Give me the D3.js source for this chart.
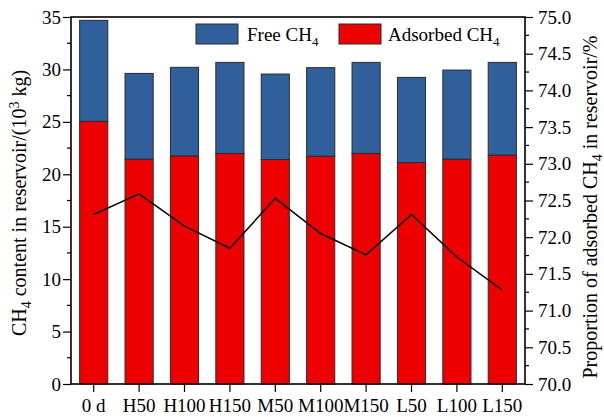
<!DOCTYPE html>
<html>
<head>
<meta charset="utf-8">
<script src="https://cdn.jsdelivr.net/npm/d3@7"></script>
<style>
  html, body { margin: 0; padding: 0; background: #fff; }
  svg { display: block; }
  text { font-family: "Liberation Serif", "Times New Roman", serif; fill: #000; }
</style>
</head>
<body>
<svg id="chart" width="604" height="417"></svg>
<script>
// Scenario categories
const categories = ["0 d", "H50", "H100", "H150", "M50", "M100", "M150", "L50", "L100", "L150"];
// Adsorbed CH4 in reservoir (10^3 kg)
const adsorbed = [25.05, 21.45, 21.76, 21.98, 21.41, 21.73, 21.98, 21.12, 21.45, 21.83];
// Free CH4 in reservoir (10^3 kg)
const free = [9.63, 8.17, 8.44, 8.69, 8.15, 8.44, 8.69, 8.12, 8.49, 8.84];
// Proportion of adsorbed CH4 (%)
const proportion = [72.31, 72.59, 72.15, 71.85, 72.53, 72.05, 71.76, 72.31, 71.73, 71.28];
// Axis ticks
const leftTicks = [0, 5, 10, 15, 20, 25, 30, 35];
const rightTicks = [70.0, 70.5, 71.0, 71.5, 72.0, 72.5, 73.0, 73.5, 74.0, 74.5, 75.0];

(function () {
const svg = d3.select("#chart");
const pL = 71, pR = 525, pT = 17, pB = 384;
const fs = 19, fsTitle = 20;

const x = d3.scaleBand().domain(categories).range([pL, pR])
  .paddingInner(0.38).paddingOuter(0.19);
const yL = d3.scaleLinear().domain([0, 35]).range([pB, pT]);
const yR = d3.scaleLinear().domain([70, 75]).range([pB, pT]);

const RED = "#ee0000", BLUE = "#30609b", EDGE = "#2a2a2a";

// Stacked bars: adsorbed at the bottom, free on top
const g = svg.append("g");
categories.forEach((c, i) => {
  g.append("rect")
    .attr("x", x(c)).attr("width", x.bandwidth())
    .attr("y", yL(adsorbed[i])).attr("height", yL(0) - yL(adsorbed[i]))
    .attr("fill", RED).attr("stroke", EDGE).attr("stroke-width", 1);
  g.append("rect")
    .attr("x", x(c)).attr("width", x.bandwidth())
    .attr("y", yL(adsorbed[i] + free[i])).attr("height", yL(adsorbed[i]) - yL(adsorbed[i] + free[i]))
    .attr("fill", BLUE).attr("stroke", EDGE).attr("stroke-width", 1);
});

// Proportion line on the right axis
const line = d3.line()
  .x((d, i) => x(categories[i]) + x.bandwidth() / 2)
  .y(d => yR(d));
svg.append("path").datum(proportion)
  .attr("d", line).attr("fill", "none")
  .attr("stroke", "#000").attr("stroke-width", 1.5);

// Frame
svg.append("rect").attr("x", pL).attr("y", pT)
  .attr("width", pR - pL).attr("height", pB - pT)
  .attr("fill", "none").attr("stroke", "#000").attr("stroke-width", 1.6);

// Left axis
const axL = d3.axisLeft(yL).tickValues(leftTicks).tickSize(8).tickPadding(2).tickFormat(d3.format("d"));
const gL = svg.append("g").attr("transform", `translate(${pL},0)`).call(axL);
const minorL = d3.range(2.5, 35, 5);
gL.selectAll(".minor").data(minorL).enter().append("line")
  .attr("x1", 0).attr("x2", -4).attr("y1", d => yL(d)).attr("y2", d => yL(d))
  .attr("stroke", "#000").attr("stroke-width", 1.2);

// Right axis
const axR = d3.axisRight(yR).tickValues(rightTicks).tickSize(8).tickPadding(5).tickFormat(d3.format(".1f"));
const gR = svg.append("g").attr("transform", `translate(${pR},0)`).call(axR);
const minorR = d3.range(70.25, 75, 0.5);
gR.selectAll(".minor").data(minorR).enter().append("line")
  .attr("x1", 0).attr("x2", 4).attr("y1", d => yR(d)).attr("y2", d => yR(d))
  .attr("stroke", "#000").attr("stroke-width", 1.2);

// Bottom axis
const axB = d3.axisBottom(x).tickSize(8).tickPadding(7);
const gB = svg.append("g").attr("transform", `translate(0,${pB})`).call(axB);

[gL, gR, gB].forEach(a => {
  a.select(".domain").remove();
  a.selectAll(".tick line").attr("stroke", "#000").attr("stroke-width", 1.2);
  a.selectAll("text").style("font-size", fs + "px")
    .style("font-family", '"Liberation Serif", "Times New Roman", serif').attr("fill", "#000");
});

// Axis titles
const tL = svg.append("text")
  .attr("transform", `translate(26,203) rotate(-90)`)
  .attr("text-anchor", "middle").style("font-size", fsTitle + "px");
tL.append("tspan").text("CH");
tL.append("tspan").text("4").style("font-size", "14px").attr("dy", 5);
tL.append("tspan").text(" content in reservoir/(10").attr("dy", -5);
tL.append("tspan").text("3").style("font-size", "14px").attr("dy", -7);
tL.append("tspan").text(" kg)").attr("dy", 7);

const tR = svg.append("text")
  .attr("transform", `translate(597,207) rotate(-90)`)
  .attr("text-anchor", "middle").style("font-size", fsTitle + "px");
tR.append("tspan").text("Proportion of adsorbed CH");
tR.append("tspan").text("4").style("font-size", "14px").attr("dy", 5);
tR.append("tspan").text(" in reservoir/%").attr("dy", -5);

// Legend
const legend = [
  { label: "Free CH", color: BLUE, bx: 196, tx: 247 },
  { label: "Adsorbed CH", color: RED, bx: 339, tx: 388 }
];
legend.forEach(l => {
  svg.append("rect").attr("x", l.bx).attr("y", 24).attr("width", 42).attr("height", 20)
    .attr("fill", l.color).attr("stroke", EDGE).attr("stroke-width", 1);
  const t = svg.append("text").attr("x", l.tx).attr("y", 41).style("font-size", fs + "px");
  t.append("tspan").text(l.label);
  t.append("tspan").text("4").style("font-size", "13px").attr("dy", 5);
});
})();
</script>
</body>
</html>
